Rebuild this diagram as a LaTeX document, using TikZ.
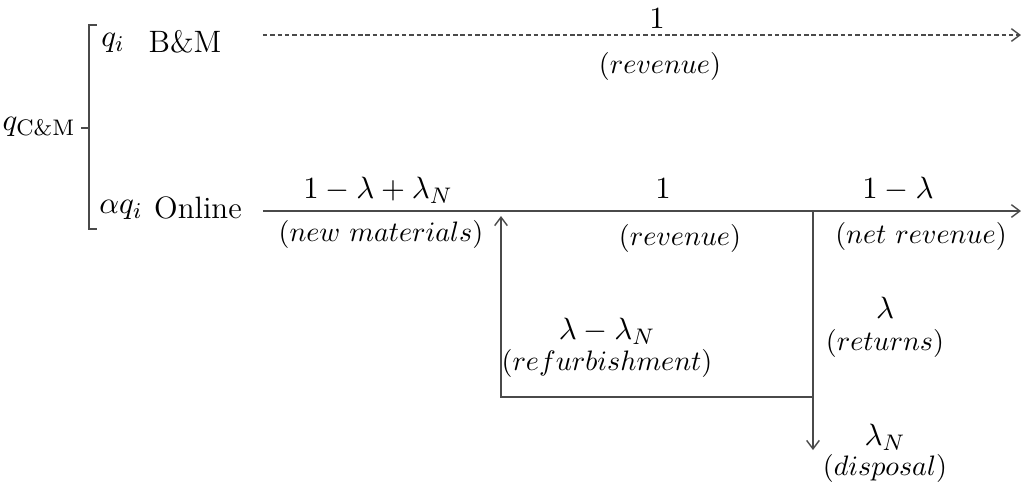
\documentclass[tikz,border=0pt]{standalone}
\usepackage{tikz}
\usetikzlibrary{arrows.meta}
\definecolor{lineGray}{HTML}{4A4A4A}

\tikzset{
  flow/.style={lineGray,line width=.5pt,-{Straight Barb[length=3pt,width=4.5pt]}},
  amount/.style={inner sep=1pt,font=\fontsize{11}{13}\selectfont},
  tag/.style={inner sep=1pt,font=\fontsize{9.7}{12}\selectfont}
}

\begin{document}
\begin{tikzpicture}[x=.0125cm,y=-.0125cm]
  \useasboundingbox (0,0) rectangle (1022,481);

  % channel split
  \draw[lineGray,line width=.5pt] (97,25) -- (89,25) -- (89,229) -- (97,229);
  \draw[lineGray,line width=.5pt] (89,128) -- (81,128);
  \node[amount,anchor=east] (total) at (79,127) {$q_{\mathrm{C\&M}}$};
  \node[amount] (qBM) at (113,43) {$q_i$};
  \node[amount] (bm) at (185,42) {B\&M};
  \node[amount] (qOn) at (121,210) {$\alpha q_i$};
  \node[amount] (online) at (198,208) {Online};

  % points along the flows
  \coordinate (bmStart) at (263,35);
  \coordinate (bmEnd) at (1021,35);
  \coordinate (onStart) at (263,211);
  \coordinate (onEnd) at (1021,211);
  \coordinate (split) at (813,211);
  \coordinate (splitLow) at (813,397);
  \coordinate (dispEnd) at (813,450);
  \coordinate (refLow) at (501,397);
  \coordinate (refTop) at (501,216);

  \draw[flow,dash pattern=on 1.6pt off 1pt] (bmStart) -- (bmEnd);
  \draw[flow] (onStart) -- (onEnd);
  \draw[flow] (split) -- (dispEnd);
  \draw[flow] (splitLow) -- (refLow) -- (refTop);

  % B&M labels
  \node[amount] (bmQty) at (657,19) {$1$};
  \node[tag] (bmRev) at (660,66) {$(revenue)$};

  % online labels
  \node[amount] (newQty) at (378,190) {$1-\lambda+\lambda_N$};
  \node[tag] (newTag) at (381,234) {$(new\ materials)$};
  \node[amount] (onQty) at (663,189) {$1$};
  \node[tag] (onRev) at (680,238) {$(revenue)$};
  \node[amount] (netQty) at (898,189) {$1-\lambda$};
  \node[tag] (netTag) at (921,236) {$(net\ revenue)$};

  % reverse flows
  \node[amount] (refQty) at (607,331) {$\lambda-\lambda_N$};
  \node[tag] (refTag) at (607,363) {$(refurbishment)$};
  \node[amount] (retQty) at (885,308) {$\lambda$};
  \node[tag] (retTag) at (885,343) {$(returns)$};
  \node[amount] (dispQty) at (885,437) {$\lambda_N$};
  \node[tag] (dispTag) at (885,468) {$(disposal)$};
\end{tikzpicture}
\end{document}
